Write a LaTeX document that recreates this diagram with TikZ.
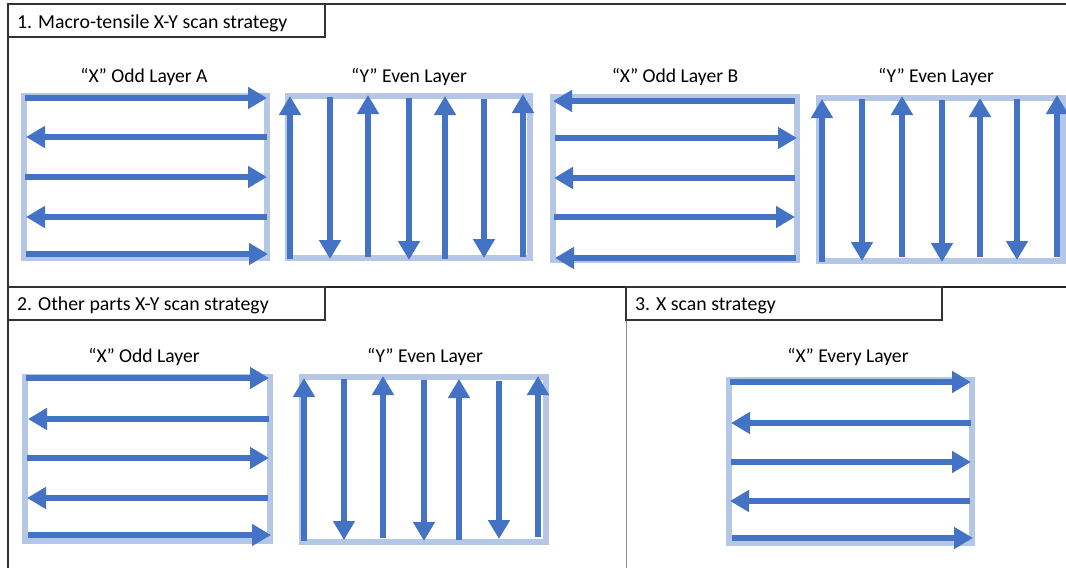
\documentclass[tikz,border=0pt]{standalone}
\usepackage{fontspec}
\setmainfont{Carlito}
\usetikzlibrary{arrows.meta}
\definecolor{scanblue}{HTML}{4472C4}
\definecolor{boxblue}{HTML}{B4C7E7}
\begin{document}
\begin{tikzpicture}[x=1pt,y=-1pt,
  panel/.style={draw=boxblue, line width=5.5pt},
  scan/.style={draw=scanblue, line width=5.5pt, -{Triangle[length=19pt,width=21pt]}},
  frame/.style={draw=black!80, line width=1.3pt},
  sep/.style={draw=black!85, line width=2pt},
  divider/.style={draw=black!45, line width=1pt},
  titletext/.style={anchor=base west, inner sep=0pt, font=\fontsize{19.8}{23}\selectfont},
  lbl/.style={anchor=base, inner sep=0pt, font=\fontsize{19.6}{23}\selectfont}]
\useasboundingbox (0,0) rectangle (1066,568);
% frames
\draw[frame] (1066,4) -- (8,4) -- (8,568);
\draw[sep] (8,287) -- (1066,287);
\draw[divider] (626,320) -- (626,568);
\draw[frame] (8,4) rectangle (325,37);
\draw[frame] (8,287) rectangle (325,320);
\draw[frame] (626,287) rectangle (942,320);
\node[titletext] (t1) at (17,28) {1. Macro-tensile X-Y scan strategy};
\node[titletext] (t2) at (17,310) {2. Other parts X-Y scan strategy};
\node[titletext] (t3) at (635,310) {3. X scan strategy};
% labels
\node[lbl] (lA) at (144,82) {“X” Odd Layer A};
\node[lbl] (lB) at (409,82) {“Y” Even Layer};
\node[lbl] (lC) at (675,82) {“X” Odd Layer B};
\node[lbl] (lD) at (936,82) {“Y” Even Layer};
\node[lbl] (lE) at (144,362) {“X” Odd Layer};
\node[lbl] (lF) at (425,362) {“Y” Even Layer};
\node[lbl] (lG) at (848,362) {“X” Every Layer};
% panel A
\draw[panel] (24,96) rectangle (267,258);
\foreach \y/\a/\b in {98/25/267,137/267/26,177/25/267,217/267/26,254/26/268}
  \draw[scan] (\a,\y) -- (\b,\y);
% panel B
\draw[panel] (288,96) rectangle (530,258);
\foreach \x/\a/\b in {290/259/96,330/97/259,368/257/95,409/98/260,445/259/96,484/99/258,523/257/94}
  \draw[scan] (\x,\a) -- (\x,\b);
% panel C
\draw[panel] (553,97) rectangle (797,260);
\foreach \y/\a/\b in {101/795/553,138/555/797,178/795/554,217/554/795,258/796/555}
  \draw[scan] (\a,\y) -- (\b,\y);
% panel D
\draw[panel] (819,98) rectangle (1063,261);
\foreach \x/\a/\b in {822/262/99,862/99/261,902/257/96,942/100/262,980/257/98,1017/99/260,1057/257/95}
  \draw[scan] (\x,\a) -- (\x,\b);
% panel E
\draw[panel] (25,377) rectangle (270,541);
\foreach \y/\a/\b in {378/26/269,419/269/28,458/27/269,498/268/27,535/28/271}
  \draw[scan] (\a,\y) -- (\b,\y);
% panel F
\draw[panel] (302,377) rectangle (546,542);
\foreach \x/\a/\b in {304/541/378,344/379/540,383/538/376,424/380/541,459/540/379,499/381/539,538/537/376}
  \draw[scan] (\x,\a) -- (\x,\b);
% panel G
\draw[panel] (729,380) rectangle (972,543);
\foreach \y/\a/\b in {382/730/971,423/971/731,462/731/971,501/970/730,538/732/973}
  \draw[scan] (\a,\y) -- (\b,\y);
\end{tikzpicture}
\end{document}
